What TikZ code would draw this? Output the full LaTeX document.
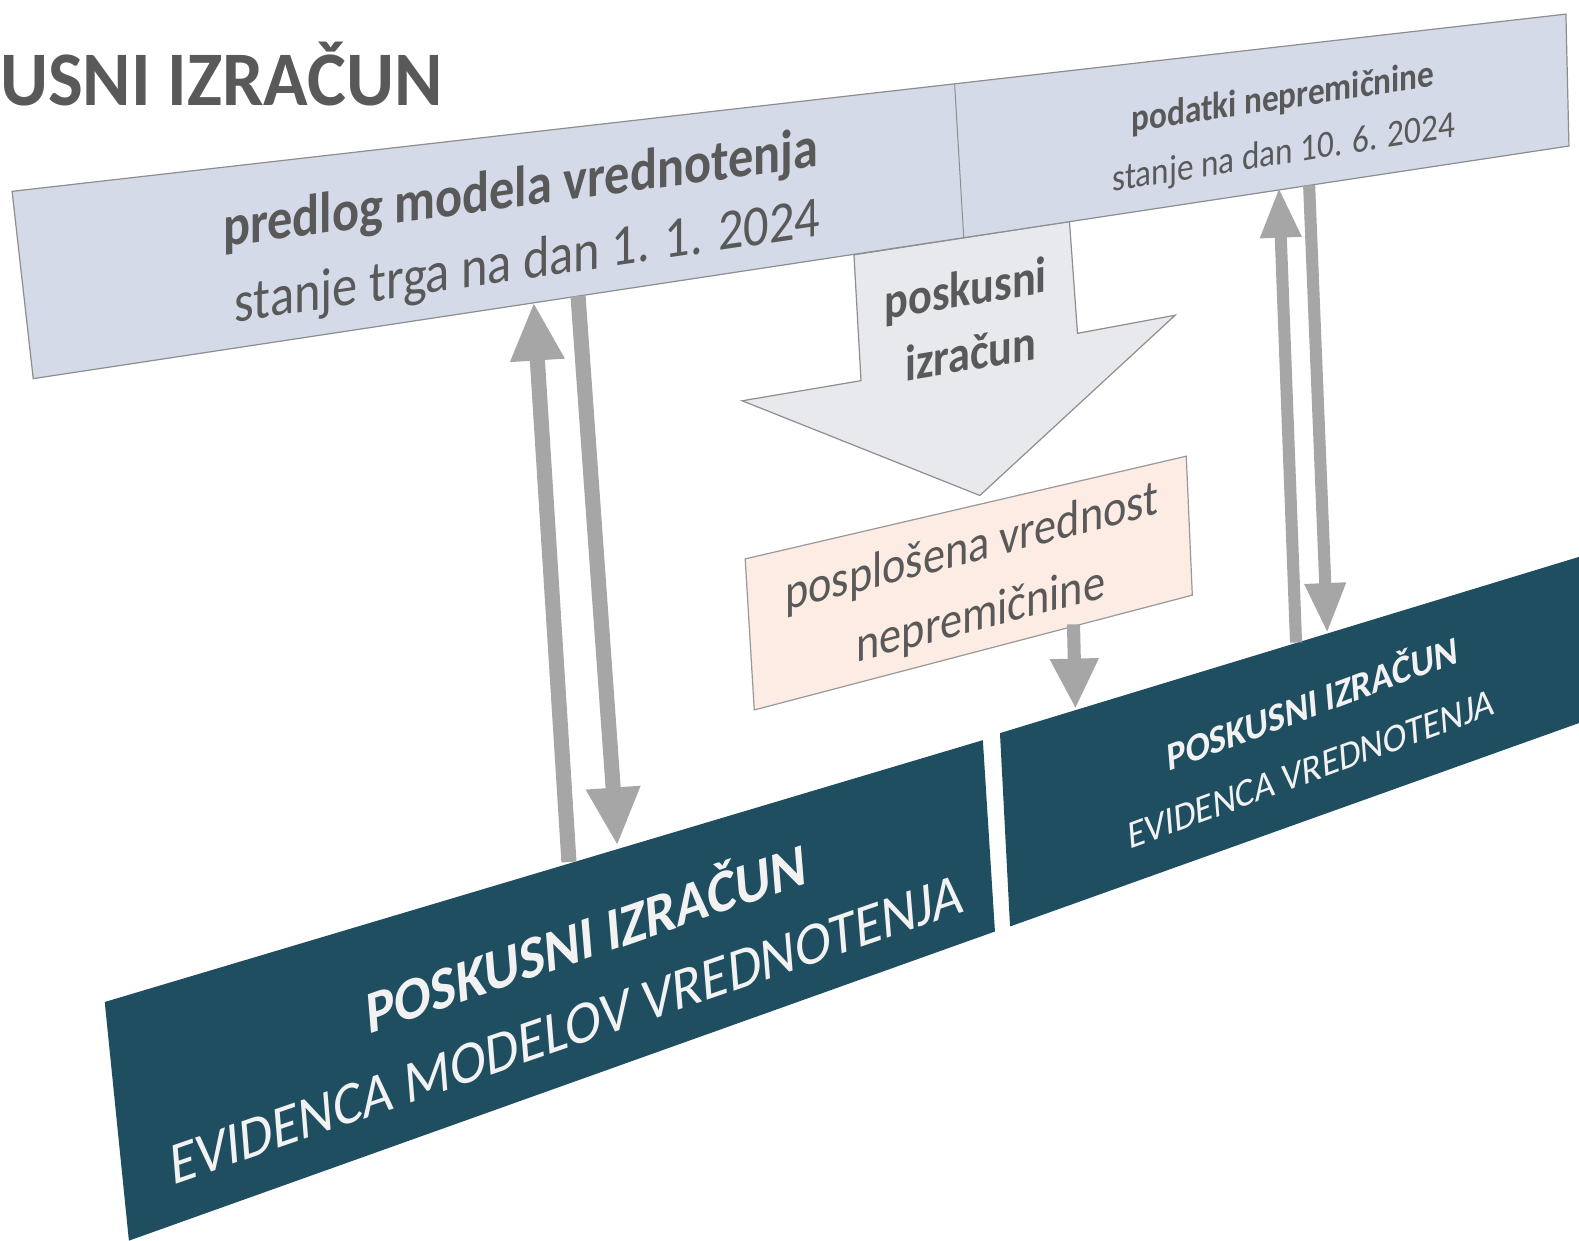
\documentclass[tikz,border=0pt]{standalone}
\usepackage{fontspec}
\setmainfont{Carlito}
\usetikzlibrary{arrows.meta}
\definecolor{bannerfill}{HTML}{D5DAE9}
\definecolor{edgegray}{HTML}{8E8E8E}
\definecolor{bigarrowfill}{HTML}{E7E9EC}
\definecolor{peachfill}{HTML}{FCECE3}
\definecolor{darkteal}{HTML}{1F4E60}
\definecolor{arrowgray}{HTML}{A6A6A6}
\definecolor{txtgray}{HTML}{595959}
\definecolor{txtwhite}{HTML}{F2F2F2}
\begin{document}
\begin{tikzpicture}[x=1pt,y=-1pt,
  lbl/.style={inner sep=0pt, text=txtgray, anchor=center},
  wlbl/.style={inner sep=0pt, text=txtwhite, anchor=center},
  fs/.style={font=\fontsize{#1}{#1}\selectfont},
  fsb/.style={font=\fontsize{#1}{#1}\selectfont\bfseries},
  tall/.style={yscale=1.15},
  bigup/.style={draw=arrowgray, line width=15pt, -{Triangle[width=50pt,length=58pt]}},
  smallup/.style={draw=arrowgray, line width=12pt, -{Triangle[width=38pt,length=50pt]}},
  midarrow/.style={draw=arrowgray, line width=13pt, -{Triangle[width=45pt,length=50pt]}},
  panel/.style={draw=edgegray, line width=1.2pt}
]
\useasboundingbox (0,0) rectangle (1568,1232);

% title
\node[inner sep=0pt, anchor=base west, text=txtgray, fsb=73, yscale=1.05] (title) at (0,105) {USNI IZRAČUN};

% big block arrow
\filldraw[panel, fill=bigarrowfill] (848,253) -- (1062,220) -- (1070,331) -- (1167,313) -- (973,492) -- (737,398) -- (855,378) -- cycle;

% top banner
\filldraw[panel, fill=bannerfill] (12,190) -- (1555,14) -- (1558,145) -- (33,376) -- cycle;
\draw[edgegray, line width=1pt] (948,84) -- (957,236);

% peach box
\filldraw[draw=edgegray!90, line width=1.2pt, fill=peachfill] (740,555) -- (1178,453) -- (1184,591) -- (749,705) -- cycle;

% dark boxes
\fill[darkteal] (104,995) -- (976,735) -- (988,925) -- (128,1232) -- cycle;
\fill[darkteal] (993,728) -- (1568,553) -- (1568,718) -- (1003,920) -- cycle;

% texts
\node[lbl, fsb=50, yslant=0.135, tall] (model) at (517,190) {predlog modela vrednotenja};
\node[lbl, fs=50, yslant=0.147, tall] (trg) at (524,262) {stanje trga na dan 1. 1. 2024};
\node[lbl, fsb=33, yslant=0.15, tall] (podatki) at (1274,98) {podatki nepremičnine};
\node[lbl, fs=33, yslant=0.16, tall] (stanje) at (1275,153) {stanje na dan 10. 6. 2024};
\node[lbl, fsb=44, yslant=0.17, tall] (posk) at (959,290) {poskusni};
\node[lbl, fsb=44, yslant=0.17, tall] (izr) at (964,350) {izračun};
\node[lbl, fs=44, yslant=0.26, tall] (vred) at (965,545) {posplošena vrednost};
\node[lbl, fs=44, yslant=0.26, tall] (nep) at (974,612) {nepremičnine};
\node[wlbl, fsb=53, yslant=0.345, xslant=-0.08, tall] (pL) at (582,928) {POSKUSNI IZRAČUN};
\node[wlbl, fs=53, yslant=0.345, xslant=-0.08, tall] (eL) at (563,1022) {EVIDENCA MODELOV VREDNOTENJA};
\node[wlbl, fsb=35, yslant=0.375, xslant=-0.08, tall] (pR) at (1303,696) {POSKUSNI IZRAČUN};
\node[wlbl, fs=35, yslant=0.37, xslant=-0.08, tall] (eR) at (1302,764) {EVIDENCA VREDNOTENJA};

% connector end points
\coordinate (bannerL1) at (530,300);
\coordinate (bannerL2) at (574,294);
\coordinate (darkL1) at (565,856);
\coordinate (darkL2) at (613,840);
\coordinate (bannerR1) at (1270,186);
\coordinate (bannerR2) at (1300,184);
\coordinate (darkR1) at (1287,638);
\coordinate (darkR2) at (1318,629);
\coordinate (peachB) at (1066,620);
\coordinate (darkR3) at (1068,704);

\draw[bigup] (darkL1) -- (bannerL1);
\draw[bigup] (bannerL2) -- (darkL2);
\draw[smallup] (darkR1) -- (bannerR1);
\draw[smallup] (bannerR2) -- (darkR2);
\draw[midarrow] (peachB) -- (darkR3);
\end{tikzpicture}
\end{document}
